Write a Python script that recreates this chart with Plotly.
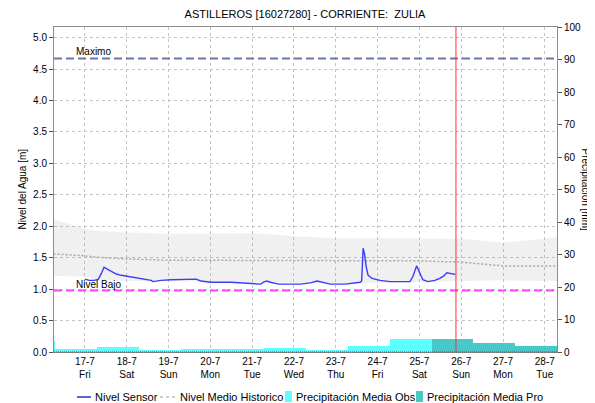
import plotly.graph_objects as go
import pandas as pd

# ---------------- data ----------------
title_text = "ASTILLEROS [16027280] - CORRIENTE:  ZULIA"

sensor_times = [
    "2020-07-17 00:00", "2020-07-17 02:34", "2020-07-17 05:26", "2020-07-17 07:43",
    "2020-07-17 09:26", "2020-07-17 10:58", "2020-07-17 12:51", "2020-07-17 15:09",
    "2020-07-17 18:00", "2020-07-17 20:51", "2020-07-18 02:34", "2020-07-18 08:17",
    "2020-07-18 14:00", "2020-07-18 15:00", "2020-07-18 16:30", "2020-07-18 19:43",
    "2020-07-19 01:26", "2020-07-19 10:00", "2020-07-19 15:43", "2020-07-19 18:34",
    "2020-07-20 00:17", "2020-07-20 11:43", "2020-07-20 20:17", "2020-07-21 04:51",
    "2020-07-21 06:34", "2020-07-21 08:17", "2020-07-21 10:34", "2020-07-21 15:09",
    "2020-07-22 03:43", "2020-07-22 09:26", "2020-07-22 13:16", "2020-07-22 16:17",
    "2020-07-22 20:51", "2020-07-23 05:26", "2020-07-23 11:09", "2020-07-23 14:00",
    "2020-07-23 14:51", "2020-07-23 15:43", "2020-07-23 16:34", "2020-07-23 17:26",
    "2020-07-23 18:34", "2020-07-23 20:51", "2020-07-24 01:26", "2020-07-24 07:09",
    "2020-07-24 18:34", "2020-07-24 20:17", "2020-07-24 22:24", "2020-07-25 00:17",
    "2020-07-25 02:00", "2020-07-25 04:51", "2020-07-25 08:51", "2020-07-25 11:43",
    "2020-07-25 14:00", "2020-07-25 15:43", "2020-07-25 17:26", "2020-07-25 19:09",
    "2020-07-25 20:34",
]
sensor_level = [
    1.16, 1.14, 1.14, 1.16,
    1.25, 1.35, 1.32, 1.28,
    1.24, 1.22, 1.19, 1.17,
    1.14, 1.12, 1.13, 1.14,
    1.15, 1.16, 1.16, 1.13,
    1.11, 1.11, 1.09, 1.08,
    1.11, 1.13, 1.11, 1.08,
    1.08, 1.10, 1.13, 1.11,
    1.08, 1.08, 1.10, 1.11,
    1.13, 1.65, 1.55, 1.36,
    1.22, 1.17, 1.14, 1.12,
    1.12, 1.20, 1.37, 1.25,
    1.15, 1.12, 1.14, 1.17,
    1.21, 1.26, 1.25, 1.24,
    1.235,
]

band_times = [
    "2020-07-16 06:00", "2020-07-16 19:00", "2020-07-17 00:00", "2020-07-17 06:00",
    "2020-07-18 00:00", "2020-07-19 00:00", "2020-07-20 00:00", "2020-07-21 00:00",
    "2020-07-22 00:00", "2020-07-23 00:00", "2020-07-24 00:00", "2020-07-25 00:00",
    "2020-07-26 00:00", "2020-07-27 00:00", "2020-07-28 00:00", "2020-07-28 07:00",
]
band_upper = [2.11, 2.00, 1.96, 1.93, 1.90, 1.88, 1.89, 1.89, 1.84, 1.81, 1.81, 1.81, 1.80, 1.74, 1.80, 1.83]
band_lower = [1.21, 1.21, 1.20, 1.14, 1.13, 1.13, 1.12, 1.10, 1.09, 1.09, 1.10, 1.11, 1.13, 1.14, 1.13, 1.13]
band_mean = [1.56, 1.54, 1.53, 1.51, 1.48, 1.46, 1.46, 1.46, 1.46, 1.46, 1.46, 1.45, 1.43, 1.37, 1.37, 1.37]

# precipitation days (each bar spans 07:00 of the day to 07:00 of the next day)
precip_obs_days = ["2020-07-15", "2020-07-16", "2020-07-17", "2020-07-18", "2020-07-19",
                   "2020-07-20", "2020-07-21", "2020-07-22", "2020-07-23", "2020-07-24"]
precip_obs = [3.4, 0.9, 1.6, 0.6, 1.0, 1.0, 1.3, 0.6, 1.8, 4.0]
precip_pro_days = ["2020-07-25", "2020-07-26", "2020-07-27"]
precip_pro = [4.0, 2.9, 1.8]

nivel_maximo = 4.67
nivel_bajo = 0.98
now_time = "2020-07-25 21:00"

tick_days = pd.date_range("2020-07-17", "2020-07-28", freq="D")
tick_text = [f"{d.day}-{d.month}<br>{d.strftime('%a')}" for d in tick_days]

x_range = ["2020-07-16 06:15", "2020-07-28 07:00"]
y_range = [0, 5.17]
y2_range = [0, 100]

# ---------------- figure ----------------
FONT = "Liberation Sans"
day_ms = 24 * 3600 * 1000

fig = go.Figure()

fig.add_trace(go.Scatter(x=band_times, y=band_lower, mode="lines",
                         line=dict(width=0, color="rgba(0,0,0,0)"), hoverinfo="skip"))
fig.add_trace(go.Scatter(x=band_times, y=band_upper, mode="lines", fill="tonexty",
                         fillcolor="rgba(160,160,160,0.16)",
                         line=dict(width=0, color="rgba(0,0,0,0)"), hoverinfo="skip"))
fig.add_trace(go.Scatter(x=band_times, y=band_mean, mode="lines",
                         line=dict(color="#a8a8a8", width=1.5, dash="2px,2px"),
                         name="Nivel Medio Historico"))
fig.add_trace(go.Scatter(x=sensor_times, y=sensor_level, mode="lines",
                         line=dict(color="#3c3cff", width=1.4), name="Nivel Sensor"))

obs_x = pd.to_datetime(precip_obs_days) + pd.Timedelta(hours=19)
pro_x = pd.to_datetime(precip_pro_days) + pd.Timedelta(hours=19)
fig.add_trace(go.Bar(x=obs_x, y=precip_obs, width=[day_ms] * len(precip_obs),
                     marker=dict(color="#5cffff", line=dict(width=0)),
                     yaxis="y2", name="Precipitación Media Obs"))
fig.add_trace(go.Bar(x=pro_x, y=precip_pro, width=[day_ms] * len(precip_pro),
                     marker=dict(color="#48c8c8", line=dict(width=0)),
                     yaxis="y2", name="Precipitación Media Pro"))

# reference lines
fig.add_shape(type="line", xref="paper", x0=0, x1=1, yref="y", y0=nivel_maximo, y1=nivel_maximo,
              line=dict(color="#6a78a8", width=2, dash="8px,4px"))
fig.add_shape(type="line", xref="paper", x0=0, x1=1, yref="y", y0=nivel_bajo, y1=nivel_bajo,
              line=dict(color="#ff40ff", width=2, dash="8px,4px"))
fig.add_shape(type="line", xref="x", x0=now_time, x1=now_time, yref="paper", y0=0, y1=1,
              line=dict(color="#ff3030", width=1))
# dotted dark baseline along the bottom axis
fig.add_shape(type="line", xref="paper", x0=0, x1=1, yref="paper", y0=0, y1=0,
              line=dict(color="#505050", width=1, dash="1px,1px"))

fig.add_annotation(x="2020-07-16 18:00", y=nivel_maximo, xref="x", yref="y", text="Maximo",
                   showarrow=False, xanchor="left", yanchor="bottom", yshift=-1,
                   font=dict(family=FONT, size=10, color="#000"))
fig.add_annotation(x="2020-07-16 18:00", y=nivel_bajo, xref="x", yref="y", text="Nivel Bajo",
                   showarrow=False, xanchor="left", yanchor="bottom", yshift=-2,
                   font=dict(family=FONT, size=10, color="#000"))

# page has an 8px body margin: figure origin sits at (8, 8) on screen
OFF = 8
SW, SH = 595, 403           # screen size
L_s, R_s, T_s, B_s = 54, 557, 27, 352   # plot area on screen
W, H = SW - OFF, SH - OFF
L, T = L_s - OFF, T_s - OFF
R, B = SW - R_s, SH - B_s
pw, ph = R_s - L_s, B_s - T_s


def px(x):
    return (x - L_s) / pw


def py(y):
    return (B_s - y) / ph


fig.add_annotation(x=px(22), y=0.5, xref="paper", yref="paper", text="Nivel del Agua [m]",
                   textangle=-90, showarrow=False, xanchor="center", yanchor="middle",
                   font=dict(family=FONT, size=10, color="#000"))
fig.add_annotation(x=px(585), y=0.5, xref="paper", yref="paper", text="Precipitación [mm]",
                   textangle=90, showarrow=False, xanchor="center", yanchor="middle",
                   font=dict(family=FONT, size=10, color="#000"))

# manual legend
ly = py(397)
leg_font = dict(family=FONT, size=11, color="#000")
fig.add_shape(type="line", xref="paper", yref="paper", x0=px(77), x1=px(91), y0=ly, y1=ly,
              line=dict(color="#2020c8", width=1.4))
fig.add_annotation(x=px(93), y=ly, xref="paper", yref="paper", text="Nivel Sensor",
                   showarrow=False, xanchor="left", yanchor="middle", font=leg_font)
fig.add_shape(type="line", xref="paper", yref="paper", x0=px(160), x1=px(175), y0=ly, y1=ly,
              line=dict(color="#c0c0c0", width=1.4, dash="3px,3px"))
fig.add_annotation(x=px(178), y=ly, xref="paper", yref="paper", text="Nivel Medio Historico",
                   showarrow=False, xanchor="left", yanchor="middle", font=leg_font)
fig.add_shape(type="rect", xref="paper", yref="paper", x0=px(285), x1=px(292),
              y0=py(402), y1=py(391), fillcolor="#5cffff", line=dict(width=0))
fig.add_annotation(x=px(294), y=ly, xref="paper", yref="paper", text="Precipitación Media Obs",
                   showarrow=False, xanchor="left", yanchor="middle", font=leg_font)
fig.add_shape(type="rect", xref="paper", yref="paper", x0=px(416), x1=px(423),
              y0=py(402), y1=py(391), fillcolor="#48c8c8", line=dict(width=0))
fig.add_annotation(x=px(425), y=ly, xref="paper", yref="paper", text="Precipitación Media Pro",
                   showarrow=False, xanchor="left", yanchor="middle", font=leg_font)

tick_font = dict(family=FONT, size=10, color="#000")
fig.update_layout(
    width=W, height=H,
    margin=dict(l=L, r=R, t=T, b=B, pad=0),
    paper_bgcolor="white", plot_bgcolor="white",
    showlegend=False,
    barmode="overlay", bargap=0,
    title=dict(text=title_text, x=(305 - OFF) / W, xanchor="center",
               y=1 - (14 - OFF) / H, yanchor="middle",
               font=dict(family=FONT, size=11, color="#000")),
    xaxis=dict(type="date", range=x_range, tickvals=tick_days, ticktext=tick_text,
               showgrid=True, gridcolor="#c4c4c4", griddash="dot", gridwidth=1,
               showline=True, linecolor="#8c8c8c", mirror=True, ticks="",
               tickfont=tick_font, zeroline=False),
    yaxis=dict(range=y_range, dtick=0.5, tick0=0, tickformat=".1f",
               showgrid=True, gridcolor="#c4c4c4", griddash="dot", gridwidth=1,
               showline=True, linecolor="#8c8c8c", mirror=True,
               ticks="outside", ticklen=4, tickcolor="#555",
               tickfont=tick_font, zeroline=False),
    yaxis2=dict(range=y2_range, dtick=10, overlaying="y", side="right",
                showgrid=False, showline=True, linecolor="#8c8c8c",
                ticks="outside", ticklen=4, tickcolor="#555",
                tickfont=tick_font, zeroline=False),
)

fig.write_html("out.html")
